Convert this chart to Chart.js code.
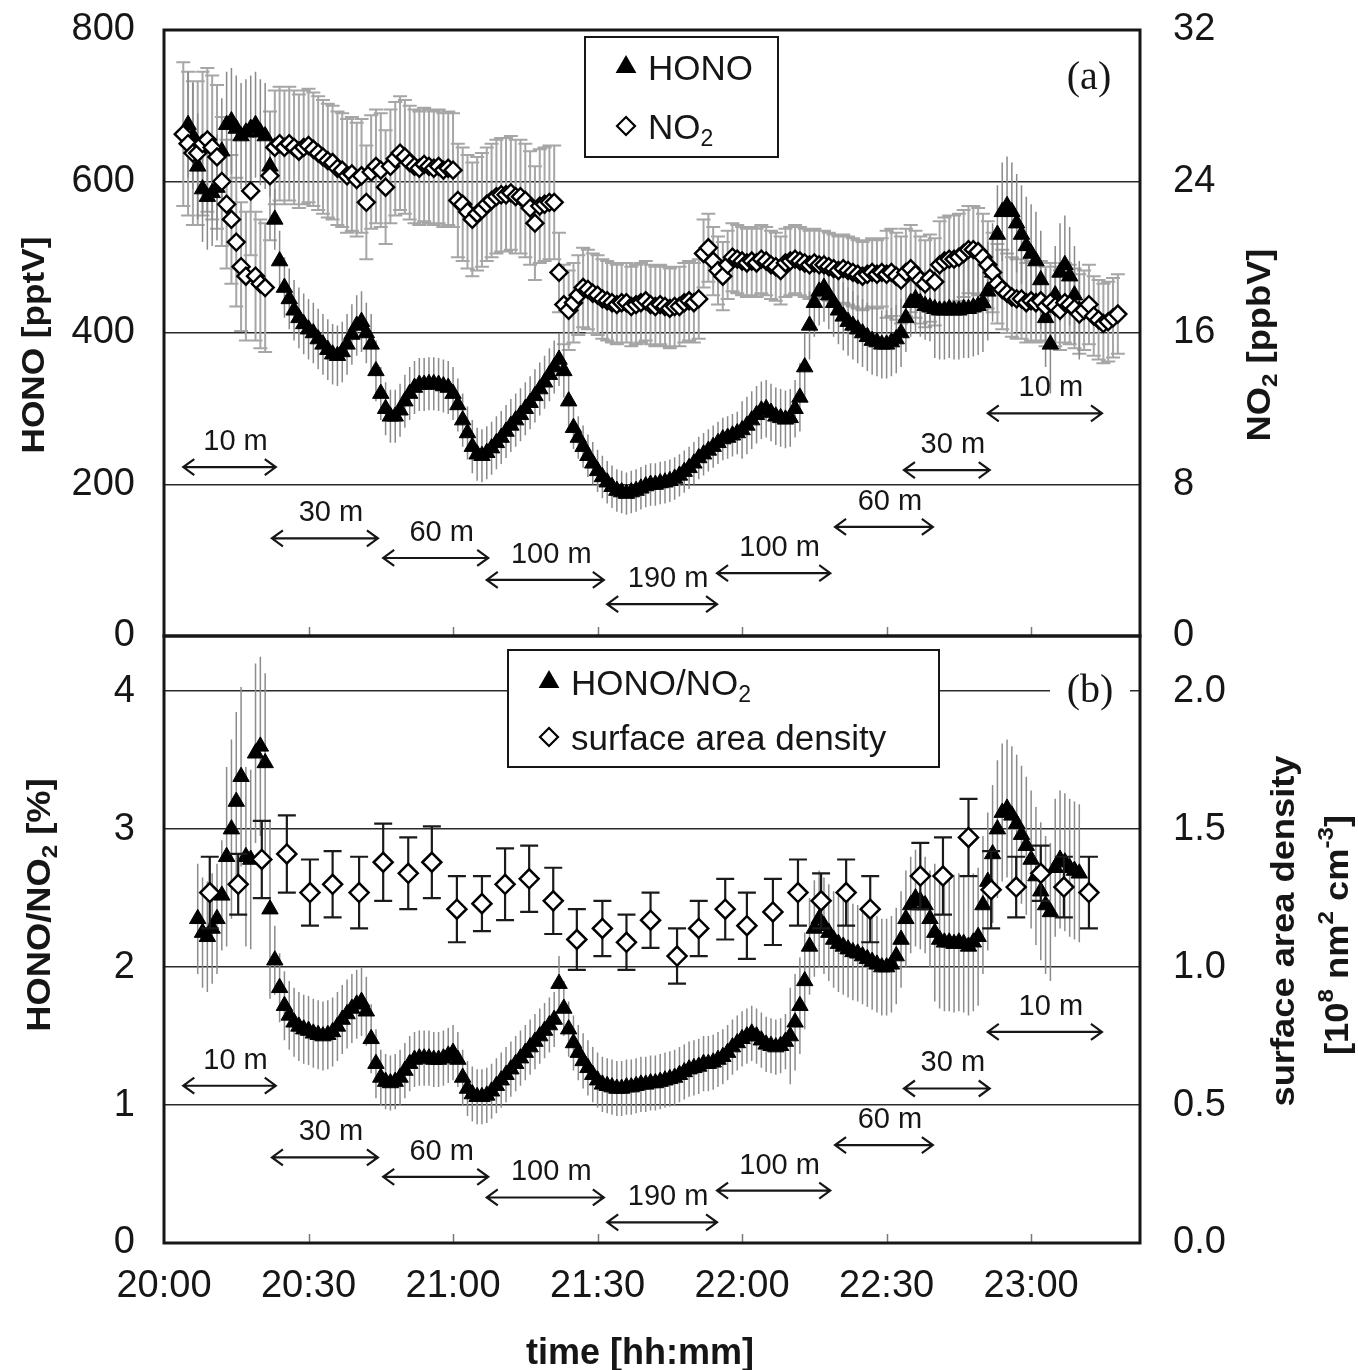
<!DOCTYPE html>
<html>
<head>
<meta charset="utf-8">
<title>HONO and NO2 during the tower profile run</title>
<script src="https://cdn.jsdelivr.net/npm/chart.js@4.4.1/dist/chart.umd.min.js"></script>
<style>
  html, body { margin: 0; padding: 0; background: #fff; }
  #wrap { position: relative; width: 1358px; height: 1370px; background: #fff; overflow: hidden; }
  canvas { position: absolute; left: 0; }
  #panelA { top: 0; }
  #panelB { top: 620px; }
</style>
</head>
<body>
<div id="wrap">
  <canvas id="panelA" width="1358" height="662"></canvas>
  <canvas id="panelB" width="1358" height="750"></canvas>
</div>
<script>
// time is counted in minutes after 20:00, one reading per minute
const honoStart = 5;
const honoPptv = [
  675, 660, 620, 590, 580, 585, 592, 640, 675, 680,
  670, 660, 665, 670, 675, 665, 660, 620, 550, 495,
  460, 445, 430, 420, 412, 405, 400, 392, 385, 378,
  372, 370, 375, 385, 398, 410, 415, 400, 385, 350,
  320, 300, 290, 290, 298, 310, 320, 328, 332, 332,
  333, 333, 332, 330, 328, 320, 305, 285, 268, 250,
  240, 238, 242, 248, 255, 262, 270, 278, 285, 292,
  300, 308, 317, 326, 335, 345, 355, 365, 350, 310,
  275, 262, 250, 238, 228, 218, 210, 203, 197, 192,
  190, 188, 190, 192, 195, 198, 200, 200, 202, 203,
  205, 208, 212, 217, 222, 228, 235, 240, 245, 250,
  255, 260, 262, 265, 268, 272, 278, 285, 292, 298,
  300, 295, 290, 288, 286, 288, 300, 315, 355, 410,
  440, 455, 460, 450, 440, 430, 422, 415, 410, 405,
  400, 395, 390, 388, 385, 385, 388, 392, 400, 420,
  440, 445, 440, 436, 434, 432, 430, 430, 432, 430,
  430, 432, 432, 434, 436, 440, 455, 480, 530, 560,
  568, 560, 545, 530, 515, 505, 495, 470, 420, 385,
  450, 480, 490, 475, 450, 430
];

const no2Start = 4;
const no2Ppbv = [
  26.5, 26.0, 25.5, 25.5, 26.0, 26.2, 25.8, 25.3, 24.0, 22.8,
  22.0, 20.8, 19.5, 19.0, 23.5, 19.0, 18.6, 18.4, 24.3, 25.8,
  26.0, 25.8, 26.0, 25.8, 25.6, 25.8, 25.9, 25.7, 25.5, 25.3,
  25.1, 25.0, 24.7, 24.6, 24.3, 24.4, 24.1, 24.3, 22.9, 24.5,
  24.8, 24.6, 23.7, 24.8, 25.2, 25.5, 25.3, 25.0, 24.8, 24.7,
  24.9, 24.8, 24.7, 24.8, 24.6, 24.7, 24.6, 23.0, 22.8, 22.4,
  22.0, 22.3, 22.5, 22.8, 23.0, 23.2, 23.3, 23.3, 23.4, 23.2,
  23.2, 23.0, 22.6, 21.8, 22.7, 22.8, 22.9, 22.9, 19.2, 17.5,
  17.2, 17.6, 18.0, 18.4, 18.3, 18.1, 18.0, 17.8, 17.7, 17.6,
  17.5, 17.6, 17.6, 17.4, 17.5, 17.6, 17.7, 17.5, 17.4, 17.5,
  17.4, 17.3, 17.4, 17.4, 17.6, 17.7, 17.6, 17.8, 20.2, 20.5,
  19.8, 19.3, 19.0, 19.6, 20.0, 19.9, 19.8, 19.7, 19.8, 19.7,
  19.9, 19.8, 19.6, 19.5, 19.3, 19.7, 19.8, 19.9, 19.8, 19.7,
  19.6, 19.7, 19.6, 19.6, 19.5, 19.4, 19.3, 19.4, 19.3, 19.2,
  19.1, 19.0, 19.1, 19.2, 19.1, 19.2, 19.1, 19.2, 19.0, 18.8,
  19.2, 19.4, 19.1, 18.8, 18.6, 18.9, 18.7, 19.6, 19.8, 19.9,
  19.9, 20.0, 20.2, 20.4, 20.4, 20.3, 20.0, 19.6, 19.2, 18.6,
  18.3, 18.1, 17.9, 17.8, 17.8, 17.6, 17.7, 17.6, 17.7, 17.4,
  17.6, 17.4, 17.2, 17.6, 17.5, 17.3, 17.0, 17.2, 17.5, 16.9,
  16.7, 16.5, 16.6, 16.8, 17.0
];

const ratioStart = 7;
const ratioPct = [
  2.35, 2.25, 2.22, 2.28, 2.35, 2.52, 2.80, 3.00, 3.20, 3.38,
  2.80, 2.78, 3.55, 3.60, 3.48, 2.42, 2.05, 1.85, 1.72, 1.65,
  1.60, 1.57, 1.55, 1.54, 1.52, 1.51, 1.50, 1.51, 1.53, 1.57,
  1.62, 1.66, 1.70, 1.73, 1.75, 1.68, 1.48, 1.30, 1.20, 1.17,
  1.16, 1.17, 1.20, 1.25, 1.30, 1.33, 1.34, 1.34, 1.34, 1.33,
  1.33, 1.34, 1.36, 1.38, 1.33, 1.20, 1.12, 1.08, 1.06, 1.06,
  1.07, 1.10, 1.14, 1.18, 1.22, 1.26, 1.30, 1.34, 1.38, 1.42,
  1.46, 1.50, 1.54, 1.58, 1.62, 1.88, 1.70, 1.55, 1.45, 1.38,
  1.32, 1.27, 1.22, 1.18, 1.15, 1.14, 1.13, 1.12, 1.12, 1.13,
  1.13, 1.14, 1.15, 1.15, 1.16, 1.16, 1.17, 1.18, 1.19, 1.20,
  1.22, 1.24, 1.26, 1.27, 1.28, 1.30, 1.30, 1.31, 1.33, 1.35,
  1.38, 1.42, 1.45, 1.48, 1.50, 1.52, 1.50, 1.47, 1.44, 1.43,
  1.42, 1.43, 1.46, 1.50, 1.60, 1.72, 1.90, 2.15, 2.28, 2.35,
  2.30, 2.25, 2.20, 2.17, 2.15, 2.13, 2.11, 2.10, 2.08, 2.06,
  2.04, 2.02, 2.00, 2.00, 2.02, 2.08, 2.20, 2.35, 2.45, 2.50,
  2.48, 2.45, 2.35, 2.25, 2.20, 2.18, 2.18, 2.17, 2.18, 2.17,
  2.15, 2.18, 2.22, 2.45, 2.62, 2.82, 3.00, 3.12, 3.15, 3.10,
  3.04, 2.96, 2.88, 2.78, 2.66, 2.55, 2.45, 2.40, 2.72, 2.78,
  2.76, 2.72, 2.70, 2.68
];

// particle surface area density, 10^8 nm2 cm-3
const sadTime = [9.5, 15.4, 20.3, 25.5, 30.3, 35, 40.5, 45.5, 50.7, 55.6,
  60.8, 66, 70.8, 75.8, 80.8, 85.7, 91, 96, 101, 106.5,
  111, 116.5, 121, 126.4, 131.6, 136.4, 141.6, 146.6, 157, 161.7,
  167, 171.7, 176.9, 182, 186.8, 192];
const sadValue = [1.27, 1.30, 1.39, 1.41, 1.27, 1.30, 1.27, 1.38, 1.34, 1.38,
  1.21, 1.23, 1.30, 1.32, 1.24, 1.10, 1.14, 1.09, 1.17, 1.04,
  1.14, 1.21, 1.15, 1.20, 1.27, 1.24, 1.27, 1.21, 1.33, 1.33,
  1.47, 1.28, 1.29, 1.34, 1.29, 1.27];
const sadErr = [0.13, 0.11, 0.14, 0.14, 0.12, 0.12, 0.13, 0.14, 0.13, 0.13,
  0.12, 0.10, 0.13, 0.12, 0.12, 0.11, 0.10, 0.10, 0.10, 0.10,
  0.10, 0.11, 0.12, 0.12, 0.12, 0.10, 0.12, 0.12, 0.12, 0.14,
  0.14, 0.14, 0.11, 0.10, 0.11, 0.13];

// error half-widths, as [from minute, value]
const honoErr = [[0, 70], [22, 40], [45, 35], [85, 28], [120, 38], [132, 45], [160, 65]];
const no2Err = [[0, 3.8], [12, 3.4], [23, 3.0], [82, 2.1], [112, 1.8], [150, 2.3], [172, 2.1]];
const ratioErr = [[0, 0.4], [13, 0.65], [23, 0.25], [45, 0.2], [130, 0.35], [160, 0.5]];

const timeTicks = [0, 30, 60, 90, 120, 150, 180];
const honoTicks = [0, 200, 400, 600, 800];
const no2Ticks = [0, 8, 16, 24, 32];
const ratioTicks = [0, 1, 2, 3, 4];
const sadTicks = [0, 0.5, 1, 1.5, 2];

// sampling height periods along the tower
const spanText = ['10 m', '30 m', '60 m', '100 m', '190 m', '100 m', '60 m', '30 m', '10 m'];
const spanStart = [4, 22.4, 45.5, 67, 92, 114.8, 139.3, 153.6, 171];
const spanEnd = [23.2, 44.4, 67.3, 91.3, 114.8, 138.3, 159.6, 171.4, 194.7];
const spanLevelA = [223, 129, 103, 74, 42, 83, 144, 219, 294];
const spanLevelB = [1.14, 0.62, 0.48, 0.33, 0.15, 0.38, 0.71, 1.12, 1.53];

const SANS = '"Liberation Sans", Arial, Helvetica, sans-serif';
const SERIF = '"Liberation Serif", "Times New Roman", serif';
const INK = '#161616';
const X_MAX = 202.6;

Chart.defaults.font.family = SANS;
Chart.defaults.color = INK;

function series(start, vals) {
  return vals.map((v, i) => ({ x: start + i, y: v }));
}

function errAt(table, t) {
  let e = table[0][1];
  table.forEach(([from, v]) => { if (t >= from) e = v; });
  return e;
}

function hhmm(v) {
  const h = 20 + Math.floor(v / 60);
  const m = v % 60;
  return h + ':' + String(m).padStart(2, '0');
}

function drawErr(chart, i) {
  const ds = chart.data.datasets[i];
  const meta = chart.getDatasetMeta(i);
  const ys = chart.scales[meta.yAxisID];
  const a = chart.chartArea;
  const ctx = chart.ctx;
  ctx.save();
  ctx.beginPath();
  ctx.rect(a.left, a.top, a.right - a.left, a.bottom - a.top);
  ctx.clip();
  ctx.strokeStyle = ds.errColor;
  ctx.lineWidth = ds.errWidth;
  ctx.beginPath();
  meta.data.forEach((pt, k) => {
    const v = ds.data[k].y, e = ds.err[k];
    const y1 = ys.getPixelForValue(v + e), y2 = ys.getPixelForValue(v - e);
    ctx.moveTo(pt.x, y1);
    ctx.lineTo(pt.x, y2);
    if (ds.errCap) {
      ctx.moveTo(pt.x - ds.errCap, y1); ctx.lineTo(pt.x + ds.errCap, y1);
      ctx.moveTo(pt.x - ds.errCap, y2); ctx.lineTo(pt.x + ds.errCap, y2);
    }
  });
  ctx.stroke();
  ctx.restore();
}

// grey bars go behind every marker, black ones just under their own markers
const errorBars = {
  id: 'errorBars',
  beforeDatasetsDraw(chart) {
    chart.data.datasets.forEach((ds, i) => { if (ds.errLayer === 'back') drawErr(chart, i); });
  },
  beforeDatasetDraw(chart, args) {
    const ds = chart.data.datasets[args.index];
    if (ds.errLayer === 'front') drawErr(chart, args.index);
  }
};

// text with sub/superscript pieces, centred or left aligned at (x, y);
// stretch lengthens the glyphs along the writing direction
function richText(ctx, parts, x, y, size, weight, rot, align, stretch) {
  ctx.save();
  ctx.translate(x, y);
  ctx.rotate(rot || 0);
  ctx.scale(stretch || 1, 1);
  const fontFor = small => `${weight} ${small ? Math.round(size * 0.66) : size}px ${SANS}`;
  let total = 0;
  parts.forEach(([t, k]) => { ctx.font = fontFor(!!k); total += ctx.measureText(t).width; });
  let cx = align === 'left' ? 0 : -total / 2;
  ctx.textAlign = 'left';
  ctx.textBaseline = 'alphabetic';
  ctx.fillStyle = INK;
  parts.forEach(([t, k]) => {
    ctx.font = fontFor(!!k);
    const dy = k === 'sub' ? size * 0.22 : k === 'sup' ? -size * 0.45 : 0;
    ctx.fillText(t, cx, size * 0.36 + dy);
    cx += ctx.measureText(t).width;
  });
  ctx.restore();
}

function marker(ctx, kind, x, y, r) {
  ctx.save();
  ctx.beginPath();
  if (kind === 'triangle') {
    ctx.moveTo(x, y - r);
    ctx.lineTo(x + r * 0.866, y + r * 0.5);
    ctx.lineTo(x - r * 0.866, y + r * 0.5);
    ctx.closePath();
    ctx.fillStyle = '#000';
    ctx.fill();
  } else {
    ctx.moveTo(x - r, y); ctx.lineTo(x, y - r); ctx.lineTo(x + r, y); ctx.lineTo(x, y + r);
    ctx.closePath();
    ctx.fillStyle = '#fff';
    ctx.fill();
    ctx.lineWidth = 2.2;
    ctx.strokeStyle = '#000';
    ctx.stroke();
  }
  ctx.restore();
}

function drawSpans(chart, levels, yId) {
  const ctx = chart.ctx;
  const xs = chart.scales.x, ys = chart.scales[yId];
  ctx.save();
  ctx.strokeStyle = INK;
  ctx.fillStyle = INK;
  ctx.lineWidth = 2.2;
  ctx.font = `29px ${SANS}`;
  ctx.textAlign = 'center';
  ctx.textBaseline = 'middle';
  spanText.forEach((txt, i) => {
    const x1 = xs.getPixelForValue(spanStart[i]);
    const x2 = xs.getPixelForValue(spanEnd[i]);
    const y = ys.getPixelForValue(levels[i]);
    ctx.beginPath();
    ctx.moveTo(x1, y); ctx.lineTo(x2, y);
    ctx.moveTo(x1 + 11, y - 8); ctx.lineTo(x1, y); ctx.lineTo(x1 + 11, y + 8);
    ctx.moveTo(x2 - 11, y - 8); ctx.lineTo(x2, y); ctx.lineTo(x2 - 11, y + 8);
    ctx.stroke();
    ctx.fillText(txt, (x1 + x2) / 2 + 6, y - 25);
  });
  ctx.restore();
}

function drawLegend(ctx, box, rows) {
  const [x, y, w, h] = box;
  ctx.save();
  ctx.fillStyle = '#fff';
  ctx.fillRect(x, y, w, h);
  ctx.strokeStyle = INK;
  ctx.lineWidth = 2;
  ctx.strokeRect(x, y, w, h);
  ctx.restore();
  rows.forEach(r => {
    marker(ctx, r.kind, r.mx, r.my, r.kind === 'triangle' ? 12 : 9);
    richText(ctx, r.parts, r.mx + 22, r.my, 35, 'normal', 0, 'left');
  });
}

function drawTag(ctx, text, x, y, clear) {
  ctx.save();
  if (clear) {
    ctx.fillStyle = '#fff';
    ctx.fillRect(x - 40, y - 14, 80, 28);
  }
  ctx.fillStyle = INK;
  ctx.font = `40px ${SERIF}`;
  ctx.textAlign = 'center';
  ctx.textBaseline = 'middle';
  ctx.fillText(text, x, y);
  ctx.restore();
}

// frame, inner time ticks, span arrows, legend, titles
function decor(top, extras) {
  return {
    id: 'decor',
    afterDatasetsDraw(chart) {
      const { ctx, chartArea: a } = chart;
      const xs = chart.scales.x;
      ctx.save();
      ctx.strokeStyle = '#7a7a7a';
      ctx.lineWidth = 1.5;
      timeTicks.forEach(t => {
        if (t === 0) return;
        const px = Math.round(xs.getPixelForValue(t)) + 0.5;
        ctx.beginPath();
        ctx.moveTo(px, a.bottom);
        ctx.lineTo(px, a.bottom - 9);
        ctx.stroke();
      });
      ctx.strokeStyle = INK;
      ctx.lineWidth = 3;
      ctx.strokeRect(a.left, a.top, a.right - a.left, a.bottom - a.top);
      ctx.restore();
    },
    afterDraw(chart) {
      const ctx = chart.ctx;
      ctx.save();
      extras.spans(chart);
      ctx.translate(0, -top);
      extras.page(ctx);
      ctx.restore();
    }
  };
}

function yScale(pos, min, max, ticks, width, fmt, grid) {
  return {
    type: 'linear',
    position: pos,
    min: min,
    max: max,
    afterBuildTicks: s => { s.ticks = ticks.map(v => ({ value: v })); },
    ticks: {
      padding: pos === 'left' ? 29 : 33,
      font: { size: 38 },
      color: INK,
      callback: fmt
    },
    grid: grid ? { color: '#2b2b2b', lineWidth: 1.6, drawTicks: false } : { display: false, drawTicks: false },
    border: { display: false },
    afterFit: s => { s.width = width; s.paddingTop = 0; s.paddingBottom = 0; }
  };
}

function xScale(showLabels, height) {
  return {
    type: 'linear',
    min: 0,
    max: X_MAX,
    afterBuildTicks: s => { s.ticks = timeTicks.map(v => ({ value: v })); },
    ticks: { display: showLabels, padding: 21, font: { size: 38 }, color: INK, maxRotation: 0, callback: v => hhmm(v) },
    grid: { display: false, drawTicks: false },
    border: { display: false },
    afterFit: s => { s.height = height; s.paddingLeft = 0; s.paddingRight = 0; }
  };
}

const common = {
  responsive: false,
  animation: false,
  events: [],
  plugins: { legend: { display: false }, tooltip: { enabled: false } }
};

const honoData = series(honoStart, honoPptv);
const no2Data = series(no2Start, no2Ppbv);
const ratioData = series(ratioStart, ratioPct);
const sadData = sadTime.map((t, i) => ({ x: t, y: sadValue[i] }));

new Chart(document.getElementById('panelA'), {
  type: 'scatter',
  data: {
    datasets: [
      {
        label: 'NO2', data: no2Data, yAxisID: 'y1', order: 0,
        pointStyle: 'rectRot', pointRadius: 8.5, pointBorderWidth: 2.4,
        pointBackgroundColor: '#fff', pointBorderColor: '#000',
        err: no2Data.map(p => errAt(no2Err, p.x)), errColor: '#a6a6a6', errWidth: 2, errCap: 7, errLayer: 'back'
      },
      {
        label: 'HONO', data: honoData, yAxisID: 'y', order: 1,
        pointStyle: 'triangle', pointRadius: 9.5, pointBorderWidth: 1,
        pointBackgroundColor: '#000', pointBorderColor: '#000',
        err: honoData.map(p => errAt(honoErr, p.x)), errColor: '#8a8a8a', errWidth: 1.5, errCap: 0, errLayer: 'back'
      }
    ]
  },
  options: Object.assign({}, common, {
    layout: { padding: { top: 30, bottom: 26, left: 0, right: 0 } },
    scales: {
      x: xScale(false, 0),
      y: yScale('left', 0, 800, honoTicks, 164, v => v, true),
      y1: yScale('right', 0, 32, no2Ticks, 218, v => v, false)
    }
  }),
  plugins: [errorBars, decor(0, {
    spans: chart => drawSpans(chart, spanLevelA, 'y'),
    page: ctx => {
      drawLegend(ctx, [585, 37, 193, 120], [
        { kind: 'triangle', mx: 626, my: 67, parts: [['HONO']] },
        { kind: 'diamond', mx: 626, my: 126, parts: [['NO'], ['2', 'sub']] }
      ]);
      drawTag(ctx, '(a)', 1089, 78, false);
      richText(ctx, [['HONO [pptV]']], 32, 345, 32, 'bold', -Math.PI / 2, 'center', 1.1);
      richText(ctx, [['NO'], ['2', 'sub'], [' [ppbV]']], 1258, 345, 33, 'bold', -Math.PI / 2, 'center', 1.1);
    }
  })]
});

new Chart(document.getElementById('panelB'), {
  type: 'scatter',
  data: {
    datasets: [
      {
        label: 'surface area density', data: sadData, yAxisID: 'y1', order: 0,
        pointStyle: 'rectRot', pointRadius: 9.5, pointBorderWidth: 2.5,
        pointBackgroundColor: '#fff', pointBorderColor: '#000',
        err: sadErr, errColor: '#1a1a1a', errWidth: 2.2, errCap: 9, errLayer: 'front'
      },
      {
        label: 'HONO/NO2', data: ratioData, yAxisID: 'y', order: 1,
        pointStyle: 'triangle', pointRadius: 9.5, pointBorderWidth: 1,
        pointBackgroundColor: '#000', pointBorderColor: '#000',
        err: ratioData.map(p => errAt(ratioErr, p.x)), errColor: '#8c8c8c', errWidth: 1.5, errCap: 0, errLayer: 'back'
      }
    ]
  },
  options: Object.assign({}, common, {
    layout: { padding: { top: 16, bottom: 0, left: 0, right: 0 } },
    scales: {
      x: xScale(true, 127),
      y: yScale('left', 0, 4.4, ratioTicks, 164, v => v, true),
      y1: yScale('right', 0, 2.2, sadTicks, 218, v => v.toFixed(1), false)
    }
  }),
  plugins: [errorBars, decor(620, {
    spans: chart => drawSpans(chart, spanLevelB, 'y'),
    page: ctx => {
      drawLegend(ctx, [508, 650, 431, 117], [
        { kind: 'triangle', mx: 549, my: 682, parts: [['HONO/NO'], ['2', 'sub']] },
        { kind: 'diamond', mx: 549, my: 737, parts: [['surface area density']] }
      ]);
      drawTag(ctx, '(b)', 1090, 691, true);
      richText(ctx, [['HONO/NO'], ['2', 'sub'], [' [%]']], 38, 905, 33, 'bold', -Math.PI / 2, 'center', 1.1);
      richText(ctx, [['surface area density']], 1282, 931, 33, 'bold', -Math.PI / 2, 'center', 1.1);
      richText(ctx, [['[10'], ['8', 'sup'], [' nm'], ['2', 'sup'], [' cm'], ['-3', 'sup'], [']']], 1336, 935, 33, 'bold', -Math.PI / 2, 'center', 1.1);
      richText(ctx, [['time [hh:mm]']], 640, 1351, 36, 'bold', 0);
    }
  })]
});
</script>
</body>
</html>
